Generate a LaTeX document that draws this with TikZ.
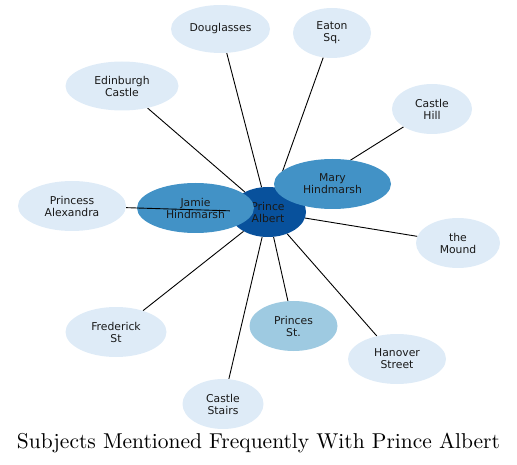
\documentclass[tikz,border=0pt]{standalone}
\usepackage{fontspec}
\usepackage{graphicx}
\newfontfamily\lblfont{DejaVu Sans}
\usetikzlibrary{shapes.geometric}
\definecolor{cPale}{HTML}{DEEBF7}
\definecolor{cLight}{HTML}{9ECAE1}
\definecolor{cMid}{HTML}{4292C6}
\definecolor{cDark}{HTML}{08519C}
\pgfdeclarelayer{bottom}
\pgfdeclarelayer{mid}
\pgfsetlayers{bottom,mid,main}
\tikzset{
  bub/.style={ellipse, inner sep=0pt, draw=none, align=center, text=black!90,
    font=\lblfont\fontsize{10.8}{12}\selectfont},
  pale/.style={bub, fill=cPale},
  edge/.style={draw=black, line width=0.9pt}
}
\begin{document}
\begin{tikzpicture}[x=1pt,y=-1pt]
\useasboundingbox (0,0) rectangle (517,465);
\begin{pgfonlayer}{bottom}
\node[bub, fill=cDark, minimum width=76pt, minimum height=50pt] (pa) at (268,212) {Prince\\Albert};
\node[bub, fill=cMid, minimum width=117pt, minimum height=50pt] (jh) at (195.5,208) {Jamie\\Hindmarsh};
\end{pgfonlayer}
\node[bub, fill=cMid, minimum width=117pt, minimum height=50pt] (mh) at (332.5,184) {Mary\\Hindmarsh};
\node[pale, minimum width=99pt, minimum height=48pt] (dg) at (220.5,29) {Douglasses};
\node[pale, minimum width=78pt, minimum height=50pt] (es) at (332,33) {Eaton\\Sq.};
\node[pale, minimum width=113pt, minimum height=49pt] (ec) at (122,86) {Edinburgh\\Castle};
\node[pale, minimum width=80pt, minimum height=50pt] (ch) at (432,109) {Castle\\Hill};
\node[pale, minimum width=108pt, minimum height=50pt] (px) at (72,206) {Princess\\Alexandra};
\node[pale, minimum width=84pt, minimum height=50pt] (tm) at (458,243) {the\\Mound};
\node[pale, minimum width=101pt, minimum height=50pt] (fs) at (116,332) {Frederick\\St};
\node[bub, fill=cLight, minimum width=88pt, minimum height=50pt] (ps) at (293.5,326) {Princes\\St.};
\node[pale, minimum width=98pt, minimum height=50pt] (hs) at (397,359) {Hanover\\Street};
\node[pale, minimum width=81pt, minimum height=50pt] (cs) at (223,404) {Castle\\Stairs};
\begin{pgfonlayer}{mid}
\foreach \n in {dg,es,ec,ch,px,tm,fs,ps,hs,cs} {
  \draw[edge] (\n) -- (pa);
}
\end{pgfonlayer}
\node[inner sep=0pt, anchor=base] (title) at (258.5,448) {\resizebox{483pt}{!}{\fontsize{10}{12}\selectfont Subjects Mentioned Frequently With Prince Albert}};
\end{tikzpicture}
\end{document}
